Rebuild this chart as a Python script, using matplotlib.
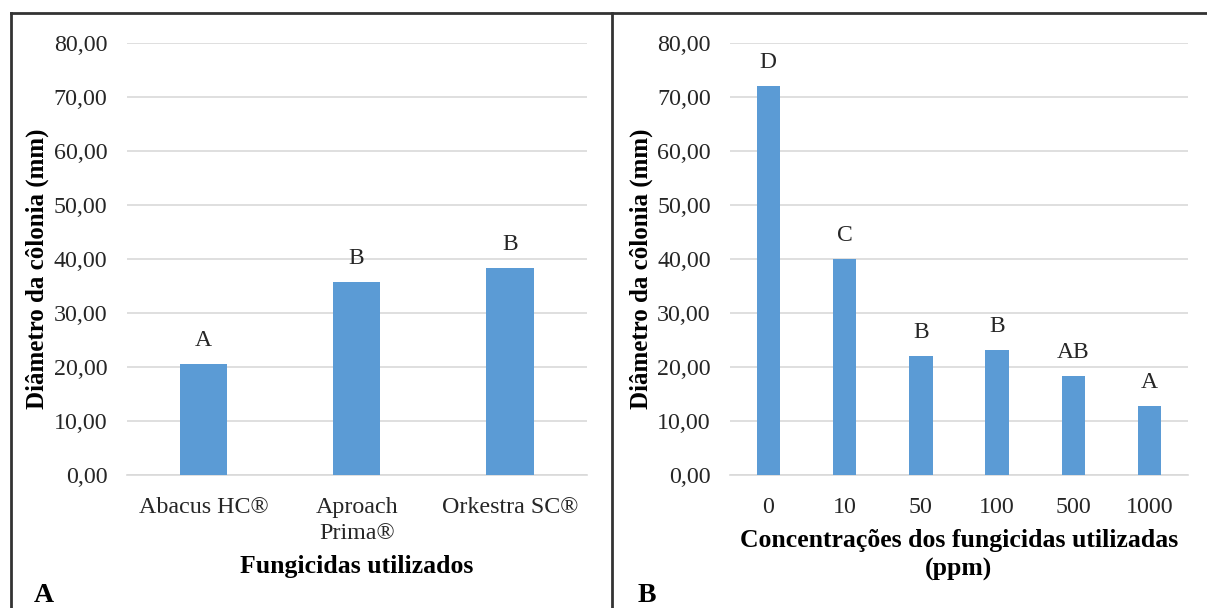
#! /usr/bin/env python3
import matplotlib
matplotlib.use('Agg')
from matplotlib import pyplot as plt
from matplotlib.lines import Line2D

# ==== DATA ====

fung_names = ['Abacus HC®', 'Aproach\nPrima®', 'Orkestra SC®']
fung_values = [20.6, 35.7, 38.4]
fung_letters = ['A', 'B', 'B']

conc_names = ['0', '10', '50', '100', '500', '1000']
conc_values = [72.0, 40.0, 22.1, 23.2, 18.4, 12.7]
conc_letters = ['D', 'C', 'B', 'B', 'AB', 'A']

y_ticks = [0, 10, 20, 30, 40, 50, 60, 70, 80]

# ==== PLOT ====

plt.rcParams['font.family'] = ['Liberation Serif', 'DejaVu Serif']
BAR = '#5b9bd5'
GRID = '#d9d9d9'
TXT = '#262626'

fig = plt.figure(figsize=(12.07, 6.08), dpi=100)


def panel(rect, names, values, letters, xlabel, tag, tag_x):
    ax = fig.add_axes(rect)
    x = list(range(len(names)))
    ax.bar(x, values, width=0.31, color=BAR, zorder=3)
    for xi, v, l in zip(x, values, letters):
        ax.text(xi, v + 2.4, l, ha='center', va='bottom', fontsize=17, color=TXT)
    ax.set_xlim(-0.5, len(names) - 0.5)
    ax.set_ylim(0, 80)
    ax.set_yticks(y_ticks)
    ax.set_yticklabels([f'{t:.2f}'.replace('.', ',') for t in y_ticks])
    ax.set_xticks(x)
    ax.set_xticklabels(names, linespacing=1.3)
    ax.yaxis.grid(True, color=GRID, linewidth=1.2, zorder=0)
    for s in ['top', 'right', 'left']:
        ax.spines[s].set_visible(False)
    ax.spines['bottom'].set_color(GRID)
    ax.spines['bottom'].set_linewidth(1.2)
    ax.tick_params(axis='both', length=0, labelsize=17.3, labelcolor=TXT)
    ax.tick_params(axis='y', pad=14)
    ax.tick_params(axis='x', pad=16)
    ax.set_ylabel('Diâmetro da côlonia (mm)', fontsize=18, fontweight='bold',
                  color='black', labelpad=3)
    ax.yaxis.label.set_y(0.477)
    ax.set_xlabel(xlabel, fontsize=18.5, fontweight='bold', color='black',
                  labelpad=8, linespacing=1.3)
    fig.text(tag_x, 0.01, tag, fontsize=20, fontweight='bold', color='black')
    return ax


panel([0.105, 0.219, 0.381, 0.710], fung_names, fung_values, fung_letters,
      'Fungicidas utilizados', 'A', 0.028)
panel([0.605, 0.219, 0.379, 0.710], conc_names, conc_values, conc_letters,
      'Concentrações dos fungicidas utilizadas\n(ppm)', 'B', 0.528)

# panel frame lines
frame = dict(color='#333333', linewidth=2, transform=fig.transFigure)
fig.add_artist(Line2D([0.009, 1.0], [0.979, 0.979], **frame))
fig.add_artist(Line2D([0.009, 0.009], [0.0, 0.979], **frame))
fig.add_artist(Line2D([0.507, 0.507], [0.0, 0.979], **frame))

fig.savefig('out.png', dpi=100)
